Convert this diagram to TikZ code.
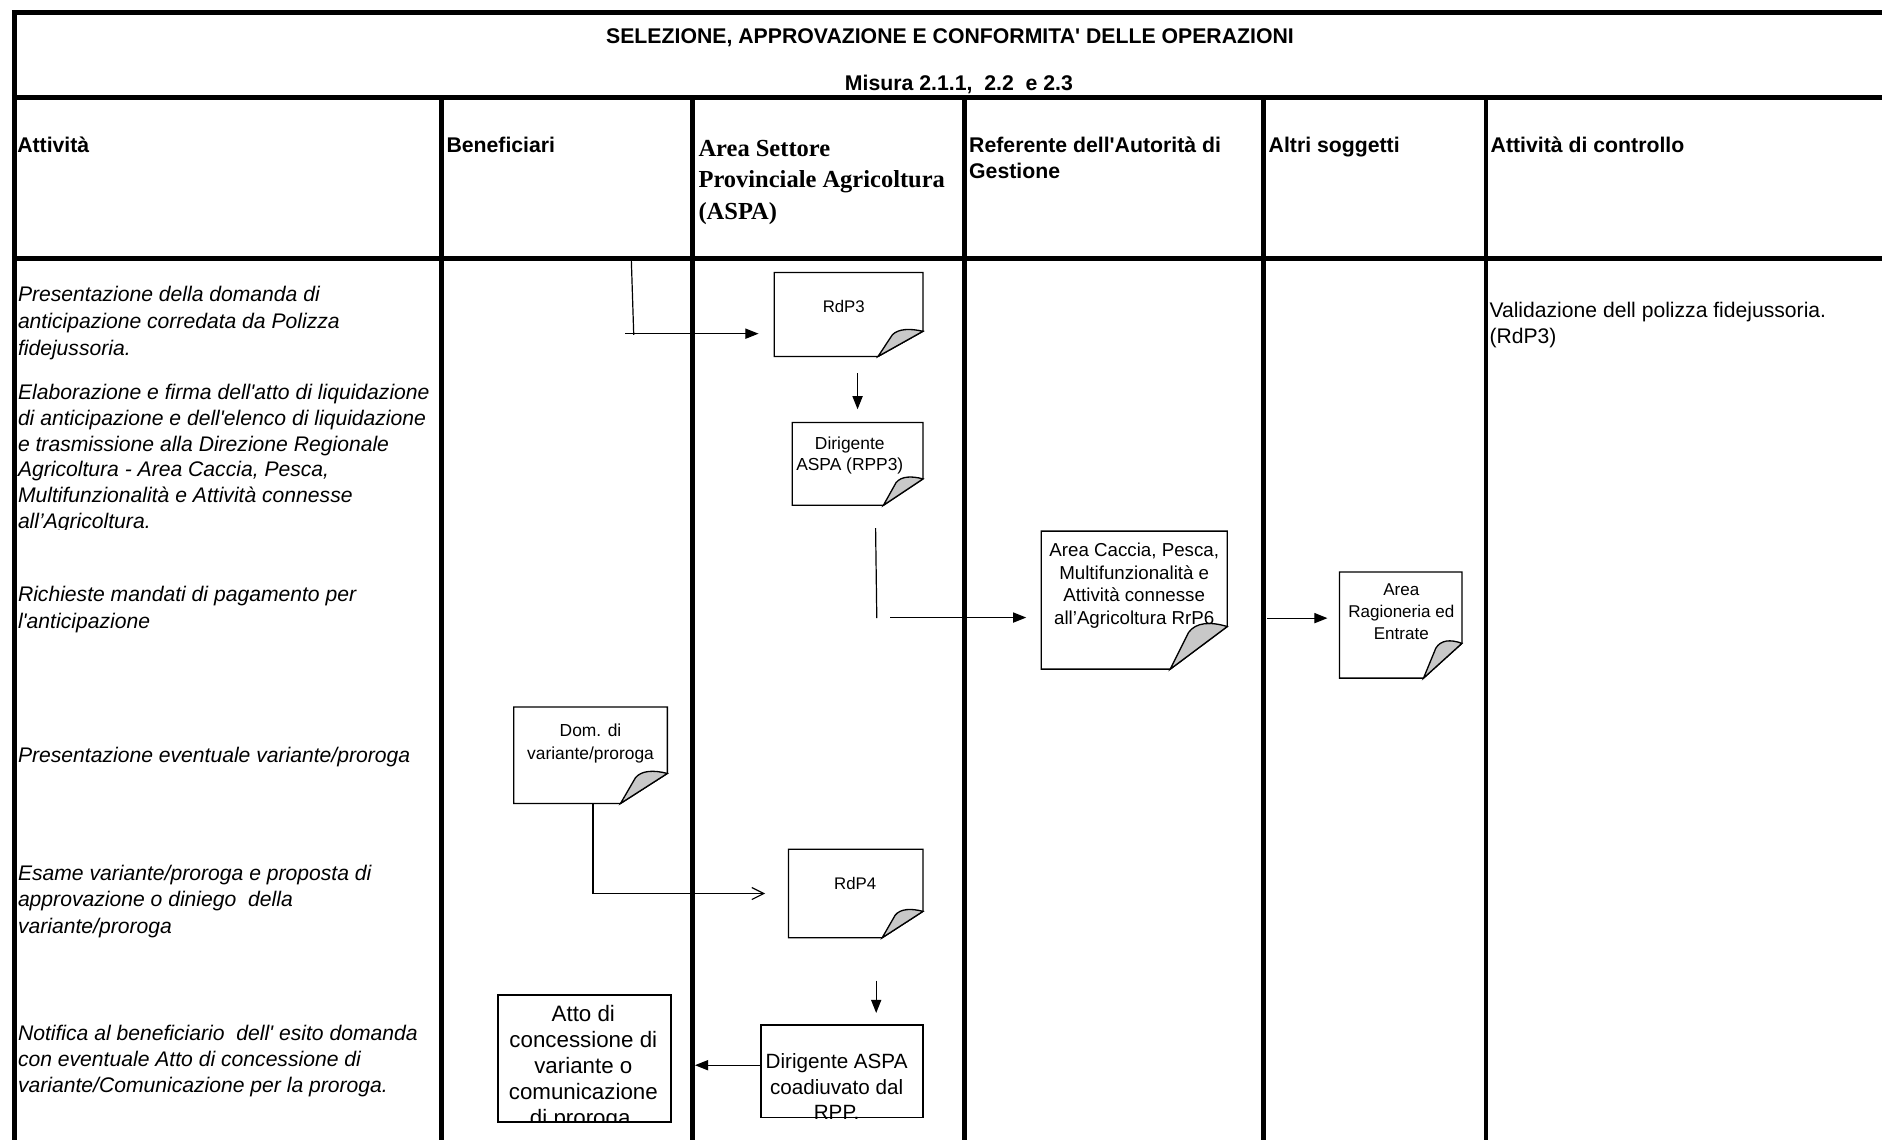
\documentclass[tikz,border=0pt]{standalone}
\usepackage{fontspec}
\setmainfont{Liberation Sans}
\newfontfamily\serifface{Liberation Serif}
\usetikzlibrary{arrows.meta,calc}
\definecolor{flapgray}{RGB}{200,200,200}
\newcommand{\ap}{\textquotesingle}
\newcommand{\fz}[2]{\fontsize{#1pt}{#2pt}\selectfont}
% folded-corner document outline around an (empty) box node: #1 name, #2 fold width, #3 fold height
\newcommand{\docoutline}[3]{%
  \draw[boxline] (#1.north west) -- (#1.north east) -- ([yshift=#3]#1.south east)
     -- ([xshift=-#2]#1.south east) -- (#1.south west) -- cycle;
  \draw[boxline, fill=flapgray] ([xshift=-#2]#1.south east) -- ([yshift=#3]#1.south east)
     .. controls ([xshift=-0.3*#2, yshift=1.12*#3]#1.south east) and ([xshift=-0.55*#2, yshift=1.1*#3]#1.south east)
     .. ([xshift=-0.68*#2, yshift=0.86*#3]#1.south east) -- cycle;
}
\begin{document}
\begin{tikzpicture}[x=1pt,y=-1pt,
  tabline/.style={line width=4pt},
  box/.style={rectangle, inner sep=0pt, outer sep=0pt, draw=none},
  boxline/.style={line width=1.1pt, line join=miter},
  plainbox/.style={rectangle, inner sep=0pt, outer sep=0pt, draw, line width=1.1pt},
  tl/.style={anchor=north west, inner sep=0pt, outer sep=0pt, align=left},
  bl/.style={anchor=base west, inner sep=0pt, outer sep=0pt},
  ctext/.style={anchor=north, inner sep=0pt, outer sep=0pt, align=center},
  cbase/.style={anchor=base, inner sep=0pt, outer sep=0pt},
  hdr/.style={font=\fz{17.7}{22}\bfseries},
  conn/.style={line width=1pt},
  arr/.style={conn, -{Triangle[length=11pt,width=8.5pt]}},
  oarr/.style={conn, -{Straight Barb[length=10pt,width=10pt]}},
]
\useasboundingbox (0,0) rectangle (1568,949);
\clip (0,0) rectangle (1568,949);

% ---------- table grid ----------
\draw[tabline] (9.8,10.7) -- (1580,10.7);
\draw[tabline] (11.8,8.7) -- (11.8,960);
\draw[tabline] (9.8,81.5) -- (1580,81.5);
\draw[tabline] (9.8,215.6) -- (1580,215.6);
\foreach \cx in {368,577,803.5,1053,1238}
  \draw[tabline] (\cx,81.5) -- (\cx,960);

% ---------- headings ----------
\node[bl, hdr] (title) at (505,36) {SELEZIONE, APPROVAZIONE E CONFORMITA\ap{} DELLE OPERAZIONI};
\node[bl, hdr] (misura) at (704,75) {Misura 2.1.1,\ \ 2.2\ \ e 2.3};
\node[bl, hdr] (hAtt) at (14.4,127) {Attività};
\node[bl, hdr] (hBen) at (372,127) {Beneficiari};
\node[tl, font=\fz{20.4}{26.5}\serifface\bfseries] (hAspa) at (582,111.5)
  {\strut Area Settore\\Provinciale Agricoltura\\(ASPA)};
\node[tl, hdr] (hRef) at (807.5,111.6) {\strut Referente dell\ap Autorità di\\Gestione};
\node[bl, hdr] (hAltri) at (1057,127) {Altri soggetti};
\node[bl, hdr] (hCtrl) at (1242,127) {Attività di controllo};

% ---------- activity texts ----------
\node[tl, font=\fz{17.6}{22.5}\itshape] (t1) at (15,235.75)
  {\strut Presentazione della domanda di\\anticipazione corredata da Polizza\\fidejussoria.};
\begin{scope}
  \clip (0,300) rectangle (366,441.5);
  \node[tl, font=\fz{17.6}{21.4}\itshape] (t2) at (15,318)
    {\strut Elaborazione e firma dell\ap atto di liquidazione\\di anticipazione e dell\ap elenco di liquidazione\\e trasmissione alla Direzione Regionale\\Agricoltura - Area Caccia, Pesca,\\Multifunzionalità e Attività connesse\\all’Agricoltura.};
\end{scope}
\node[tl, font=\fz{17.6}{22}\itshape] (t3) at (15,486.1)
  {\strut Richieste mandati di pagamento per\\l\ap anticipazione};
\node[bl, font=\fz{17.6}{22}\itshape] (t4) at (15,635.5) {Presentazione eventuale variante/proroga};
\node[tl, font=\fz{17.6}{22}\itshape] (t5) at (15,718.1)
  {\strut Esame variante/proroga e proposta di\\approvazione o diniego\ \ della\\variante/proroga};
\node[tl, font=\fz{17.6}{22}\itshape] (t6) at (15,851.1)
  {\strut Notifica al beneficiario\ \ dell\ap{} esito domanda\\con eventuale Atto di concessione di\\variante/Comunicazione per la proroga.};

% ---------- control column ----------
\node[tl, font=\fz{17.6}{22}] (c1) at (1241,249.1)
  {\strut Validazione dell polizza fidejussoria.\\(RdP3)};

% ---------- document boxes ----------
\node[box, minimum width=124pt, minimum height=70pt] (RdP3) at (707,262) {};
\docoutline{RdP3}{37.5pt}{21pt}
\node[cbase, font=\fz{14}{17}] (tRdP3) at (703,260) {RdP3};

\node[box, minimum width=109pt, minimum height=69pt] (RPP3) at (714.5,386.5) {};
\docoutline{RPP3}{33pt}{22pt}
\node[ctext, font=\fz{14.5}{17.5}] (tRPP3) at (708,362.5) {\strut Dirigente\\ASPA (RPP3)};

\node[box, minimum width=155pt, minimum height=115pt] (Caccia) at (945,500) {};
\docoutline{Caccia}{47.5pt}{35.5pt}
\node[ctext, font=\fz{15.6}{19}] (tCaccia) at (945,450.2)
  {\strut Area Caccia, Pesca,\\Multifunzionalità e\\Attività connesse\\all’Agricoltura RrP6};

\node[box, minimum width=102pt, minimum height=88.5pt] (Rag) at (1167,520.75) {};
\docoutline{Rag}{32pt}{29pt}
\node[ctext, font=\fz{14.2}{18}] (tRag) at (1167.5,483.9) {\strut Area\\Ragioneria ed\\Entrate};

\node[box, minimum width=128pt, minimum height=80.4pt] (Dom) at (492,629.2) {};
\docoutline{Dom}{39pt}{25pt}
\node[ctext, font=\fz{14.5}{19}] (tDom) at (492,600.5) {\strut Dom. di\\variante/proroga};

\node[box, minimum width=112pt, minimum height=73.7pt] (RdP4) at (713,744.45) {};
\docoutline{RdP4}{34pt}{22pt}
\node[cbase, font=\fz{14}{17}] (tRdP4) at (712.5,741.5) {RdP4};

% ---------- plain boxes ----------
\node[plainbox, minimum width=144pt, minimum height=105.7pt] (Atto) at (487,881.85) {};
\begin{scope}
  \clip (Atto.north west) rectangle (Atto.south east);
  \node[ctext, font=\fz{18.6}{21.8}] (tAtto) at (486,835.5)
    {\strut Atto di\\concessione di\\variante o\\comunicazione\\di proroga.};
\end{scope}

\node[plainbox, minimum width=135pt, minimum height=77pt] (DirB) at (701.5,892.5) {};
\node[ctext, font=\fz{17.2}{21}] (tDirB) at (697,875.8) {\strut Dirigente ASPA\\coadiuvato dal\\RPP.};

% ---------- connectors ----------
\coordinate (a1) at (526,217);
\coordinate (a2) at (528,279);
\coordinate (a3) at (521,278);
\draw[conn] (a1) -- (a2);
\draw[arr, shorten >=13pt] (a3) -- (a3 -| RdP3.west);

\draw[arr, shorten <=14pt, shorten >=11pt] (RdP3.south -| RPP3.north) -- (RPP3.north);

\coordinate (c1s) at (729.5,440);
\coordinate (c2s) at (730.5,515);
\draw[conn] (c1s) -- (c2s);
\coordinate (c3s) at (741.5,514.5);
\draw[arr, shorten >=12.5pt] (c3s) -- (c3s -| Caccia.west);

\draw[arr, shorten <=33.5pt, shorten >=10pt] ([yshift=-15pt]Caccia.east) -- ([yshift=-15pt]Caccia.east -| Rag.west);

\draw[oarr, shorten >=19.5pt] ([xshift=2pt]Dom.south) |- (RdP4.west);

\coordinate (f1) at (730,817);
\draw[arr, shorten >=10pt] (f1) -- (f1 |- DirB.north);

\draw[arr, shorten >=20pt] ([yshift=5pt]DirB.west) -- ([yshift=5pt]DirB.west -| Atto.east);
\end{tikzpicture}
\end{document}
